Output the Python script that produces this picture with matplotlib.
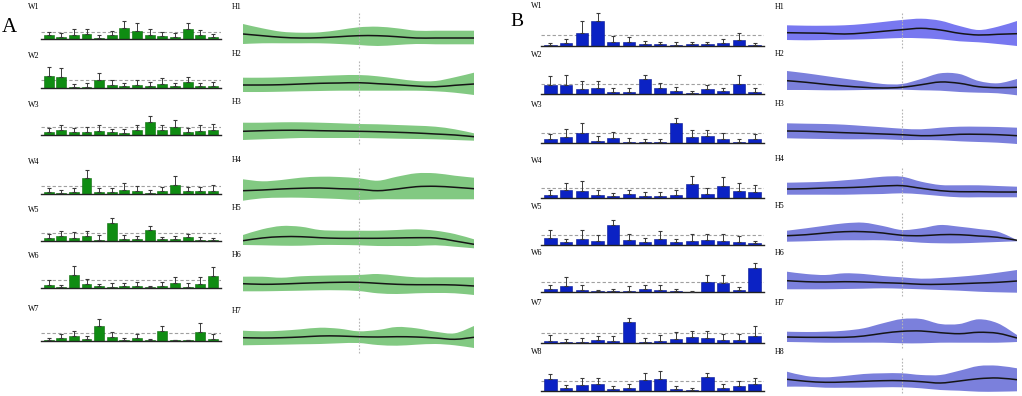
import numpy as np
import matplotlib
matplotlib.use("Agg")
import matplotlib.pyplot as plt
from matplotlib.path import Path
from matplotlib.patches import PathPatch

plt.rcParams['font.family'] = ['Liberation Serif', 'DejaVu Serif']

W, H = 1022, 396

# ---------------- bar data (panel A, 14 categories per row) ----------------
a_bar_labels = ["W1", "W2", "W3", "W4", "W5", "W6", "W7"]
a_bar_mean = [
    [3.7, 2.3, 4.3, 5.0, 1.3, 4.0, 10.7, 8.0, 4.3, 3.3, 2.0, 10.3, 3.7, 2.0],
    [12.0, 10.3, 1.0, 1.0, 7.7, 2.7, 1.3, 2.7, 2.0, 3.3, 1.7, 5.7, 1.7, 1.7],
    [3.0, 4.7, 3.0, 3.3, 4.3, 3.0, 2.3, 4.7, 13.3, 5.0, 7.7, 3.0, 4.0, 5.0],
    [2.0, 1.0, 2.3, 15.7, 2.3, 2.3, 4.0, 3.0, 1.0, 2.7, 9.3, 3.0, 3.3, 3.3],
    [2.7, 5.3, 2.7, 5.0, 1.0, 18.3, 2.0, 2.0, 10.7, 1.7, 2.3, 3.7, 1.0, 1.0],
    [3.0, 1.3, 13.0, 3.7, 1.7, 1.3, 2.0, 2.3, 0.7, 2.3, 4.7, 1.3, 4.3, 12.0],
    [1.3, 2.7, 5.0, 2.3, 15.0, 4.0, 1.0, 2.7, 0.7, 10.0, 0.7, 0.7, 8.7, 2.3],
]
a_bar_upper = [
    [7.0, 6.3, 9.7, 9.7, 4.0, 7.7, 18.0, 16.3, 9.7, 7.3, 6.0, 15.7, 8.7, 5.0],
    [20.3, 19.7, 4.0, 4.3, 15.0, 7.7, 4.3, 7.7, 6.0, 9.3, 5.0, 11.0, 4.3, 5.7],
    [7.3, 10.3, 7.0, 7.7, 9.7, 6.0, 6.0, 10.0, 19.0, 10.3, 15.0, 6.7, 9.7, 10.7],
    [5.7, 4.0, 6.3, 24.0, 6.3, 5.7, 11.3, 7.7, 3.7, 7.3, 18.3, 7.0, 7.3, 8.7],
    [6.7, 10.3, 8.7, 9.7, 5.7, 23.0, 6.3, 4.7, 14.7, 4.0, 5.0, 7.0, 4.0, 3.3],
    [7.7, 3.3, 22.0, 8.7, 4.3, 5.3, 4.7, 6.3, 1.7, 6.0, 11.0, 4.7, 10.7, 21.0],
    [3.3, 6.7, 10.0, 5.3, 22.3, 9.3, 2.7, 7.3, 1.7, 14.7, 1.3, 1.3, 18.3, 6.7],
]
a_bar_ref = [7.3, 8.0, 8.0, 8.0, 8.0, 7.7, 8.0]

# ---------------- bar data (panel B) ----------------
b_bar_labels = ["W1", "W2", "W3", "W4", "W5", "W6", "W7", "W8"]
b_bar_mean = [
    [0.7, 2.3, 12.3, 24.7, 3.7, 3.3, 2.0, 1.3, 1.0, 1.3, 1.3, 2.3, 6.0, 1.0],
    [9.7, 9.0, 5.0, 6.3, 2.3, 2.3, 15.3, 6.0, 3.7, 1.3, 5.0, 3.0, 10.3, 2.3],
    [4.3, 6.0, 10.0, 2.7, 5.0, 1.3, 1.3, 1.7, 20.7, 6.7, 7.3, 4.0, 1.0, 4.0],
    [2.3, 7.7, 7.0, 3.0, 1.3, 3.3, 2.0, 1.3, 3.0, 14.0, 4.0, 12.0, 6.7, 5.7],
    [6.7, 2.7, 5.7, 3.7, 19.7, 4.7, 2.7, 6.3, 2.7, 4.0, 5.3, 3.7, 3.3, 1.7],
    [2.7, 5.7, 1.7, 0.7, 1.0, 1.3, 3.3, 2.3, 0.7, 0.3, 9.7, 8.7, 2.3, 23.7],
    [2.3, 1.3, 1.3, 3.0, 2.3, 21.3, 1.7, 2.7, 4.7, 6.0, 5.7, 3.3, 3.7, 7.7],
    [11.7, 2.3, 5.3, 7.0, 1.7, 2.3, 10.3, 12.0, 1.7, 0.3, 14.0, 2.7, 5.0, 6.3],
]
b_bar_upper = [
    [3.0, 6.7, 24.7, 32.7, 10.0, 8.7, 5.0, 3.3, 3.7, 3.3, 4.0, 7.0, 12.3, 3.0],
    [18.0, 19.3, 13.0, 13.3, 6.3, 6.7, 19.3, 11.0, 7.7, 3.7, 9.7, 6.3, 19.7, 6.0],
    [9.0, 14.0, 20.0, 7.7, 11.0, 5.0, 4.7, 4.7, 25.0, 13.0, 13.0, 10.7, 4.0, 9.3],
    [7.3, 15.0, 16.7, 8.0, 4.3, 7.7, 6.0, 5.3, 7.3, 21.7, 9.3, 20.7, 14.3, 12.7],
    [14.7, 6.3, 15.0, 9.7, 25.3, 11.0, 6.7, 13.7, 6.3, 11.3, 11.3, 10.7, 9.0, 4.3],
    [7.3, 14.7, 7.3, 2.0, 3.0, 6.0, 7.3, 7.3, 2.7, 0.7, 17.0, 17.0, 5.3, 28.7],
    [8.0, 4.7, 5.7, 7.7, 7.7, 25.7, 5.7, 8.0, 11.0, 12.7, 12.7, 9.0, 9.7, 17.0],
    [17.0, 6.0, 13.0, 13.0, 5.0, 7.0, 17.7, 20.0, 5.0, 2.3, 18.0, 6.3, 9.3, 12.3],
]
b_bar_ref = [11.0, 10.3, 10.0, 10.0, 10.0, 10.0, 10.3, 10.0]

# ---------------- curve data (13 time points, index 6 = reference) ----------------
t_points = list(range(13))
a_line_labels = ["H1", "H2", "H3", "H4", "H5", "H6", "H7"]
a_line_mean = [
    [16, 14.3, 12.7, 12, 12.3, 13.3, 14.3, 14.3, 13.3, 12, 12, 12, 12],
    [13, 13, 13.3, 14, 14.7, 15, 15.3, 14.3, 13.3, 12, 11.3, 12.7, 14],
    [14.7, 15.3, 15.7, 15.7, 15.3, 15, 14.7, 14.3, 13.7, 13, 12, 11, 9.3],
    [14.3, 15, 16, 16.7, 17, 16.3, 15.7, 14.3, 16, 18.3, 18.7, 17.7, 16.3],
    [14.3, 17, 18.3, 18.3, 17.3, 16.7, 16.7, 16.7, 17, 17.3, 17, 14, 10.7],
    [16.3, 15.7, 16, 16.7, 17.3, 17.7, 17.7, 16.7, 15.7, 15.3, 15.3, 15, 14],
    [17.3, 17, 17.3, 18, 19, 19, 18.3, 18, 18.3, 18, 17, 15.7, 17.7],
]
a_line_upper = [
    [26, 21.7, 18.3, 17.3, 17.7, 20, 22.7, 23.3, 21.7, 19.3, 19.3, 19.3, 19.3],
    [20.3, 20.3, 20.7, 21.3, 22, 22.7, 23, 21.7, 19.3, 17, 17, 20.7, 25.3],
    [23.3, 23.3, 23.7, 23.7, 23.3, 22.7, 22, 21.7, 21, 20.3, 19.3, 16.7, 12.7],
    [25.7, 23.7, 25, 27.3, 28.3, 28, 26.7, 24.3, 28.3, 31.7, 31.7, 29.3, 27.3],
    [20, 25.7, 29, 28.3, 25, 24.3, 24.3, 24.3, 25, 25.7, 24.3, 21, 15.7],
    [23.3, 23.3, 22.3, 23.7, 24.3, 24.7, 25, 26, 24.3, 22.7, 22.7, 22.7, 22.7],
    [24.3, 23.7, 24.3, 25.7, 27.3, 26.3, 23.7, 25, 28, 26.7, 23.3, 21.7, 29],
]
a_line_lower = [
    [6, 6.7, 6.7, 6.7, 6.7, 6, 5, 4, 5, 6, 5.7, 5.7, 5.7],
    [6, 6, 6.3, 6.7, 7, 7.3, 7.3, 7.3, 7.3, 7.3, 6.7, 5.3, 3],
    [6, 6.7, 7.3, 8, 8, 8, 8, 7.7, 7.3, 7, 6.7, 6, 5.3],
    [4.3, 6.7, 7.3, 7.3, 6.7, 6, 5, 5.7, 5.7, 5.7, 5.7, 5.7, 5.7],
    [10, 9.7, 9.3, 9.3, 10, 10, 9.7, 9, 9, 9, 9.7, 8.3, 6.7],
    [8.7, 8.7, 9, 9.3, 9.7, 9.7, 9, 6.7, 6, 6.7, 7, 6.7, 5],
    [9.7, 10, 10.3, 10.7, 11, 11.7, 12, 10, 9.3, 10.3, 11, 9.7, 7],
]

b_line_labels = ["H1", "H2", "H3", "H4", "H5", "H6", "H7", "H8"]
b_line_mean = [
    [17.3, 17, 16.7, 16, 17, 18.7, 20.3, 21.7, 20, 16.7, 15, 15.7, 16.3],
    [17.3, 15.7, 13.7, 12, 10.7, 10, 10.7, 13.3, 16, 14.7, 11.3, 10.3, 10.7],
    [15, 14.7, 14, 13.3, 12.7, 12, 11.3, 10.3, 10.7, 11.7, 11.7, 11.3, 10.3],
    [16, 16.3, 17, 17.3, 18, 19, 19.3, 16.7, 14.3, 13.3, 13.3, 13, 13],
    [14.3, 15.3, 17, 18.3, 18.3, 17, 14.7, 14.3, 15.3, 15.3, 14, 12.7, 9.7],
    [17.3, 16.3, 16, 16.3, 16, 15.3, 14.7, 13.7, 13.7, 14.3, 15, 15.7, 17],
    [13, 12.7, 12.7, 12.7, 14, 16.7, 18.7, 19, 17.3, 16.3, 17.7, 16.7, 12],
    [15.7, 13.7, 12.7, 13, 13.7, 14.3, 14.3, 13.3, 12, 14, 16.3, 17, 15.3],
]
b_line_upper = [
    [24.7, 24.3, 24.3, 24.7, 26, 28, 30, 31.3, 29.3, 24, 20, 23.3, 29],
    [27, 24.7, 22, 19.3, 16.7, 14, 14, 19, 24.7, 24, 17, 14.7, 19],
    [22.7, 22.3, 22, 21.3, 20, 18.7, 17.3, 16.7, 18.3, 19.3, 19.3, 19, 18.3],
    [22.3, 22.7, 23.3, 24.7, 26.3, 28.3, 28.3, 23.3, 20, 19.7, 19.7, 19, 18.3],
    [19.3, 21.7, 24.3, 26.7, 27.3, 24, 20, 21.7, 25, 23.3, 21, 18.3, 10],
    [26.3, 24, 23, 24.7, 24, 22, 20.7, 19.3, 20, 21.3, 23, 25.3, 28],
    [18.3, 18, 18.3, 19.3, 21.7, 26.7, 31, 31, 26, 26, 30.7, 26.7, 15],
    [23.3, 19, 17.7, 19, 21, 21.7, 21.7, 20, 20, 24.3, 29, 29.3, 26.7],
]
b_line_lower = [
    [10, 9.7, 10, 10.3, 10.7, 11.3, 12, 11.7, 10.7, 8.7, 7.7, 6, 4],
    [8, 8, 7.7, 7.7, 8, 8.3, 8.3, 7.7, 7.3, 6, 5.3, 4.7, 2.7],
    [7.7, 7.3, 7, 6.7, 6.7, 6.7, 6, 6, 5.7, 4.7, 4, 3.3, 2],
    [10.3, 10.3, 10.3, 10.3, 10.7, 11, 11.7, 10.7, 9, 7.7, 7.7, 7.7, 7.7],
    [8.3, 8.7, 9.3, 9.7, 9.7, 9.7, 8.7, 7.3, 6.7, 6.7, 7.3, 8, 8.7],
    [8.7, 8.7, 8.7, 9, 9.3, 9.7, 9.3, 8.7, 8, 7.3, 6.3, 5.7, 5.3],
    [8, 7.7, 7.3, 7.3, 7.3, 7.3, 6.7, 6.7, 7.3, 7.3, 7.3, 7.3, 8],
    [8.3, 8.3, 7.3, 7.3, 7.3, 7.7, 7.7, 6.7, 5, 4.3, 3.3, 3.3, 3.7],
]

# ---------------- layout (pixels) ----------------
a_bar_base = [39, 87.5, 135, 194, 241, 288, 341]
b_bar_base = [45.7, 94.3, 143.3, 197.7, 245, 292, 343.3, 390.7]
a_bar_lab_y = [7, 56, 105, 162, 210, 256, 309]
b_bar_lab_y = [6, 55, 105, 160.7, 207, 253, 303, 352]
a_line_base = [50, 98, 146, 205, 255, 300, 355]
b_line_base = [50, 98, 146, 205, 250, 298, 350, 395]
a_line_lab_y = [7, 54.3, 101.7, 160, 208, 255, 310.7]
b_line_lab_y = [6.7, 54, 104, 159, 206, 253, 303, 352]

fig = plt.figure(figsize=(W / 100, H / 100), dpi=100)
fig.patch.set_facecolor('white')


def add_ax(x0, ybase, w, h):
    return fig.add_axes([x0 / W, 1 - ybase / H, w / W, h / H])


def smooth_segments(xs, ys):
    """Bezier (Catmull-Rom) control points through the given readings."""
    xs = np.asarray(xs, float)
    ys = np.asarray(ys, float)
    n = len(xs)
    verts = []
    for i in range(n - 1):
        x0, y0 = xs[i], ys[i]
        x1, y1 = xs[i + 1], ys[i + 1]
        xm, ym = (xs[i - 1], ys[i - 1]) if i > 0 else (x0, y0)
        xp, yp = (xs[i + 2], ys[i + 2]) if i + 2 < n else (x1, y1)
        c1 = (x0 + (x1 - xm) / 6, y0 + (y1 - ym) / 6)
        c2 = (x1 - (xp - x0) / 6, y1 - (yp - y0) / 6)
        verts += [c1, c2, (x1, y1)]
    return verts


def smooth_line_path(xs, ys):
    verts = [(xs[0], ys[0])] + smooth_segments(xs, ys)
    codes = [Path.MOVETO] + [Path.CURVE4] * (len(verts) - 1)
    return Path(verts, codes)


def smooth_band_path(xs, lo, hi):
    top = [(xs[0], hi[0])] + smooth_segments(xs, hi)
    bot = smooth_segments(xs[::-1], lo[::-1])
    verts = top + [(xs[-1], lo[-1])] + bot + [(xs[0], hi[0])]
    codes = ([Path.MOVETO] + [Path.CURVE4] * (len(top) - 1) + [Path.LINETO]
             + [Path.CURVE4] * len(bot) + [Path.CLOSEPOLY])
    return Path(verts, codes)


def bar_row(x0, width, ybase, height, ymax, vals, upper, ref, color, edge):
    ax = add_ax(x0, ybase, width, height)
    x = np.arange(len(vals))
    vals = np.array(vals)
    err = np.array(upper) - vals
    ax.axhline(ref, color='#a0a0a0', lw=0.8, ls=(0, (3, 2)), zorder=1)
    ax.bar(x, vals, width=0.78, color=color, edgecolor=edge, lw=0.4, zorder=2)
    ax.errorbar(x, vals, yerr=[np.zeros_like(err), err], fmt='none',
                ecolor='#3a3a3a', elinewidth=0.7, capsize=1.3, capthick=0.8, zorder=3)
    ax.set_xlim(-0.6, len(vals) - 0.4)
    ax.set_ylim(0, ymax)
    for s in ['top', 'right', 'left']:
        ax.spines[s].set_visible(False)
    ax.spines['bottom'].set_color('#222222')
    ax.spines['bottom'].set_linewidth(1.0)
    ax.set_xticks([])
    ax.set_yticks([])
    ax.patch.set_alpha(0)
    return ax


def line_row(x0, width, ybase, mean, upper, lower, fill):
    ax = add_ax(x0, ybase, width, 38)
    xs = np.array(t_points, float)
    ax.add_patch(PathPatch(smooth_band_path(xs, np.array(lower, float), np.array(upper, float)),
                           facecolor=fill, edgecolor='none', lw=0, zorder=1))
    ax.add_patch(PathPatch(smooth_line_path(xs, np.array(mean, float)),
                           facecolor='none', edgecolor='#151515', lw=1.1, zorder=3))
    ax.axvline(6, ymin=0.05, ymax=0.97, color='#b5b5b5', lw=0.8, ls=(0, (1.5, 1.5)), zorder=2)
    ax.set_xlim(0, 12)
    ax.set_ylim(0, 38)
    ax.axis('off')
    return ax


green, green_edge = '#0f8c12', '#0a6a0a'
blue, blue_edge = '#0b22c4', '#061590'
green_fill = '#82c982'
blue_fill = '#7b80dc'
blue_fill1 = '#7878f0'

# panel A bars
for i in range(len(a_bar_labels)):
    bar_row(41, 179.5, a_bar_base[i], 26, 26, a_bar_mean[i], a_bar_upper[i],
            a_bar_ref[i], green, green_edge)
    fig.text(28 / W, 1 - a_bar_lab_y[i] / H, a_bar_labels[i], fontsize=5.8,
             va='center', ha='left')

# panel A lines
for i in range(len(a_line_labels)):
    line_row(243, 231, a_line_base[i], a_line_mean[i], a_line_upper[i],
             a_line_lower[i], green_fill)
    fig.text(232 / W, 1 - a_line_lab_y[i] / H, a_line_labels[i], fontsize=5.8,
             va='center', ha='left')

# panel B bars
for i in range(len(b_bar_labels)):
    bar_row(541, 223, b_bar_base[i], 34, 34, b_bar_mean[i], b_bar_upper[i],
            b_bar_ref[i], blue, blue_edge)
    fig.text(531 / W, 1 - b_bar_lab_y[i] / H, b_bar_labels[i], fontsize=5.8,
             va='center', ha='left')

# panel B lines
for i in range(len(b_line_labels)):
    line_row(787, 230, b_line_base[i], b_line_mean[i], b_line_upper[i],
             b_line_lower[i], blue_fill1 if i == 0 else blue_fill)
    fig.text(775 / W, 1 - b_line_lab_y[i] / H, b_line_labels[i], fontsize=5.8,
             va='center', ha='left')

fig.text(9.5 / W, 1 - 28 / H, "A", fontsize=15, va='center', ha='center')
fig.text(516.5 / W, 1 - 21 / H, "B", fontsize=14, va='center', ha='center')

fig.savefig('out.png', dpi=100, facecolor='white')
